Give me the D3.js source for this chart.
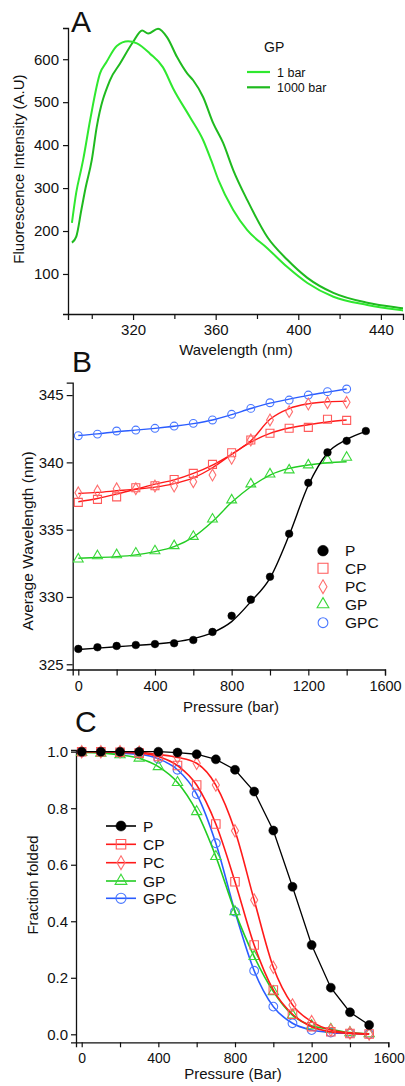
<!DOCTYPE html>
<html><head><meta charset="utf-8">
<script src="https://cdn.jsdelivr.net/npm/d3@7"></script>
<style>
body{margin:0;background:#fff}
text{font-family:"Liberation Sans",Arial,Helvetica,sans-serif;fill:#111}
</style>
</head><body>
<svg id="chart" width="405" height="1086"></svg>
<script>
// ---------- Panel A data: emission spectra of GP ----------
const wl1bar = [290.4,292.5,294.8,295.8,299.2,304,307.2,312.1,317.6,321.9,328.2,334.5,339.4,347.6,353.9,357.8,361.4,368.5,375.3,385,394.7,404.4,417,433.4,449.4,451];
const int1bar = [219,290,342,365,458,567,594,631,642,637,613,581,532,465,412,365,318,249,202,160,116,79,47,28,16,15];
const wl1000bar = [290.4,292.5,295,297,300,302.4,308.8,313.7,320,324.4,327.3,332.1,336.5,341.3,346.2,349.1,353.9,358.8,363.6,368.5,375.3,385,394.7,404.4,417,433.4,449.4,451];
const int1000bar = [173,187,250,300,365,442,551,590,640,667,660,671,651,605,567,551,512,451,405,342,272,186,133,91,56,33,21,20];
const ticksAx = [320,360,400,440];
const ticksAxMinor = [300,340,380,420];
const ticksAy = [100,200,300,400,500,600];

// ---------- Panel B data: average wavelength vs pressure ----------
const pressB = [0,100,200,300,400,500,600,700,800,900,1000,1100,1200,1300,1400,1500];
const bP   = [326.14,326.26,326.36,326.43,326.5,326.56,326.8,327.4,328.6,329.8,331.5,334.7,338.48,340.74,341.6,342.33];
const bCP  = [337.03,337.25,337.44,338.11,338.26,338.73,339.18,339.85,340.72,341.66,342.16,342.53,342.6,343.2,343.12];
const bPC  = [337.74,337.87,338.04,338.04,338.24,338.24,338.56,339.06,340.3,341.66,343.15,343.77,344.33,344.43,344.46];
const bGP  = [332.81,333.05,333.13,333.25,333.42,333.8,334.49,335.78,337.2,338.39,339.13,339.43,339.8,340.17,340.37];
const bGPC = [341.98,342.1,342.33,342.4,342.53,342.7,342.9,343.15,343.57,344.01,344.43,344.63,345.0,345.25,345.45];
// fitted curves
const fitP   = [326.1,326.2,326.3,326.4,326.5,326.65,326.9,327.35,328.17,329.65,331.4,334.6,338.3,340.7,341.7,342.3];
const fitCP  = [337.07,337.32,337.64,338.0,338.38,338.7,339.18,339.8,340.6,341.5,342.15,342.55,342.8,343.0,343.15];
const fitPC  = [337.69,337.77,337.89,338.01,338.16,338.42,338.85,339.6,340.6,341.6,343.2,344.0,344.35,344.5,344.55];
const fitGP  = [332.88,332.93,333.0,333.13,333.37,333.74,334.44,335.6,337.03,338.19,339.06,339.55,339.8,339.97,340.05];
const fitGPC = [342.0,342.12,342.28,342.4,342.53,342.68,342.88,343.15,343.55,344.0,344.4,344.7,344.98,345.22,345.45];
const ticksBx = [0,400,800,1200,1600];
const ticksBxMinor = [200,600,1000,1400];
const ticksBy = [325,330,335,340,345];

// ---------- Panel C data: fraction folded vs pressure ----------
const pressC = [0,100,200,300,400,500,600,700,800,900,1000,1100,1200,1300,1400,1500];
const cP   = [1.0,1.0,1.0,1.0,1.0,0.997,0.991,0.973,0.936,0.859,0.721,0.522,0.316,0.165,0.078,0.033];
const cCP  = [1.0,1.0,0.998,0.995,0.983,0.951,0.882,0.744,0.54,0.316,0.157,0.071,0.027,0.009,0.003,0.001];
const cPC  = [1.0,1.0,1.0,0.998,0.99,0.98,0.959,0.882,0.72,0.475,0.237,0.104,0.045,0.015,0.005,0.001];
const cGP  = [0.997,0.995,0.989,0.977,0.947,0.891,0.788,0.629,0.434,0.275,0.151,0.068,0.03,0.018,0.006,0.002];
const cGPC = [0.998,0.998,0.995,0.991,0.975,0.936,0.85,0.676,0.434,0.225,0.098,0.039,0.015,0.006,0.003,0.001];
const ticksCx = [0,400,800,1200,1600];
const ticksCxMinor = [200,600,1000,1400];
const ticksCy = [0,0.2,0.4,0.6,0.8,1.0];

const seriesNames = ["P","CP","PC","GP","GPC"];

// ---------- styles ----------
const lineCol = {P:"#000000", CP:"#ff1a1a", PC:"#ff1a1a", GP:"#22cc22", GPC:"#2a5cff"};
const markCol = {P:"#000000", CP:"#ff5a5a", PC:"#ff6e6e", GP:"#3ad83a", GPC:"#4a78ff"};
const symType = {P:d3.symbolCircle, CP:d3.symbolSquare, PC:d3.symbolDiamond, GP:d3.symbolTriangle, GPC:d3.symbolCircle};
const lightGreen = "#2fe82f", darkGreen = "#1fba1f";
const fmtInt = d3.format("d");

const svg = d3.select("#chart");

function axisStyle(g){
  g.selectAll("path.domain").attr("stroke","#111").attr("stroke-width",1.3);
  g.selectAll(".tick line").attr("stroke","#111").attr("stroke-width",1.2);
  g.selectAll(".tick text").attr("fill","#111").style("font-family",'"Liberation Sans",Arial,sans-serif');
}

// ================= Panel A =================
{
  const x = d3.scaleLinear().domain([288.5,450.7]).range([68,403]);
  const y = d3.scaleLinear().domain([6.8,672.7]).range([314,28]);
  svg.append("defs").append("clipPath").attr("id","clipA")
    .append("rect").attr("x",68).attr("y",20).attr("width",335).attr("height",294);

  const gx = svg.append("g").attr("transform","translate(0,314)")
    .call(d3.axisBottom(x).tickValues(ticksAx).tickFormat(fmtInt).tickSizeOuter(0).tickSize(6).tickPadding(4));
  gx.selectAll(".tick text").attr("font-size",15);
  axisStyle(gx);
  const gm = svg.append("g").attr("transform","translate(0,314)")
    .call(d3.axisBottom(x).tickValues(ticksAxMinor).tickSize(5).tickFormat(""))
    .call(g=>g.select(".domain").remove());
  axisStyle(gm);
  const gy = svg.append("g").attr("transform","translate(68,0)")
    .call(d3.axisLeft(y).tickValues(ticksAy).tickFormat(fmtInt).tickSizeOuter(0).tickSize(5).tickPadding(4));
  gy.selectAll(".tick text").attr("font-size",15);
  axisStyle(gy);

  const line = d3.line().x(d=>x(d[0])).y(d=>y(d[1])).curve(d3.curveMonotoneX);
  const pts1 = wl1bar.map((w,i)=>[w,int1bar[i]]);
  const pts2 = wl1000bar.map((w,i)=>[w,int1000bar[i]]);
  const gc = svg.append("g").attr("clip-path","url(#clipA)");
  gc.append("path").datum(pts2).attr("d",line).attr("fill","none").attr("stroke",darkGreen).attr("stroke-width",2);
  gc.append("path").datum(pts1).attr("d",line).attr("fill","none").attr("stroke",lightGreen).attr("stroke-width",2);

  svg.append("text").attr("x",71).attr("y",32).attr("font-size",30).text("A");
  svg.append("text").attr("x",236).attr("y",355).attr("text-anchor","middle").attr("font-size",15).text("Wavelength (nm)");
  svg.append("text").attr("transform","translate(24,169) rotate(-90)").attr("text-anchor","middle").attr("font-size",15).text("Fluorescence Intensity (A.U)");
  // legend
  svg.append("text").attr("x",264).attr("y",52).attr("font-size",14).text("GP");
  [["1 bar",lightGreen,72],["1000 bar",darkGreen,87.3]].forEach(([t,c,yy])=>{
    svg.append("line").attr("x1",247).attr("x2",270).attr("y1",yy).attr("y2",yy).attr("stroke",c).attr("stroke-width",2.2);
    svg.append("text").attr("x",277).attr("y",yy+4.5).attr("font-size",12.5).text(t);
  });
}

// ================= Panel B =================
{
  const x = d3.scaleLinear().domain([-29.2,1600]).range([72.7,385]);
  const y = d3.scaleLinear().domain([324.61,345.92]).range([669.5,382.7]);
  const gx = svg.append("g").attr("transform","translate(0,669.5)")
    .call(d3.axisBottom(x).tickValues(ticksBx).tickFormat(fmtInt).tickSizeOuter(0).tickSize(6).tickPadding(5));
  gx.selectAll(".tick text").attr("font-size",14.5);
  axisStyle(gx);
  const gm = svg.append("g").attr("transform","translate(0,669.5)")
    .call(d3.axisBottom(x).tickValues(ticksBxMinor).tickSize(6).tickFormat(""))
    .call(g=>g.select(".domain").remove());
  axisStyle(gm);
  const gy = svg.append("g").attr("transform","translate(72.7,0)")
    .call(d3.axisLeft(y).tickValues(ticksBy).tickFormat(fmtInt).tickSizeOuter(0).tickSize(6).tickPadding(3));
  gy.selectAll(".tick text").attr("font-size",15);
  axisStyle(gy);

  const line = d3.line().x(d=>x(d[0])).y(d=>y(d[1])).curve(d3.curveMonotoneX);
  const data = {P:[bP,fitP],CP:[bCP,fitCP],PC:[bPC,fitPC],GP:[bGP,fitGP],GPC:[bGPC,fitGPC]};
  const order = ["GPC","GP","CP","PC","P"];
  order.forEach(k=>{
    const fit = data[k][1].map((v,i)=>[pressB[i],v]);
    svg.append("path").datum(fit).attr("d",line).attr("fill","none")
      .attr("stroke",lineCol[k]).attr("stroke-width",1.4);
  });
  const sizes = {P:46,CP:64,PC:40,GP:42,GPC:48};
  order.forEach(k=>{
    const pts = data[k][0].map((v,i)=>[pressB[i],v]);
    svg.append("g").selectAll("path").data(pts).join("path")
      .attr("transform",d=>`translate(${x(d[0])},${y(d[1])})`)
      .attr("d",d3.symbol().type(symType[k]).size(sizes[k]))
      .attr("fill",k==="P"?"#000":"none")
      .attr("stroke",markCol[k]).attr("stroke-width",k==="P"?0.5:1.1);
  });

  svg.append("text").attr("x",72).attr("y",372).attr("font-size",30).text("B");
  svg.append("text").attr("x",231).attr("y",712).attr("text-anchor","middle").attr("font-size",15).text("Pressure (bar)");
  svg.append("text").attr("transform","translate(33,541) rotate(-90)").attr("text-anchor","middle").attr("font-size",15.5).text("Average Wavelength (nm)");

  // legend
  const legY = [550.7,568.3,586.7,604.4,622.7];
  const legSize = {P:90,CP:100,PC:55,GP:60,GPC:75};
  seriesNames.forEach((k,i)=>{
    svg.append("path").attr("transform",`translate(323,${legY[i]})`)
      .attr("d",d3.symbol().type(symType[k]).size(legSize[k]))
      .attr("fill",k==="P"?"#000":"none").attr("stroke",markCol[k]).attr("stroke-width",k==="P"?0.5:1.1);
    svg.append("text").attr("x",345).attr("y",legY[i]+5.5).attr("font-size",15.5).text(k);
  });
}

// ================= Panel C =================
{
  const x = d3.scaleLinear().domain([-29.7,1600]).range([76,388.3]);
  const y = d3.scaleLinear().domain([-0.0283,1.006]).range([1042.3,750]);
  const gx = svg.append("g").attr("transform","translate(0,1042.3)")
    .call(d3.axisBottom(x).tickValues(ticksCx).tickFormat(fmtInt).tickSizeOuter(0).tickSize(5).tickPadding(6));
  gx.selectAll(".tick text").attr("font-size",14);
  gx.selectAll(".tick").filter(d=>d===1600).select("text").attr("text-anchor","end").attr("dx",16);
  axisStyle(gx);
  const gm = svg.append("g").attr("transform","translate(0,1042.3)")
    .call(d3.axisBottom(x).tickValues(ticksCxMinor).tickSize(5).tickFormat(""))
    .call(g=>g.select(".domain").remove());
  axisStyle(gm);
  const gy = svg.append("g").attr("transform","translate(76,0)")
    .call(d3.axisLeft(y).tickValues(ticksCy).tickSizeOuter(0).tickSize(5).tickPadding(3).tickFormat(d3.format(".1f")));
  gy.selectAll(".tick text").attr("font-size",15);
  axisStyle(gy);

  const smooth = d3.line().x(d=>x(d[0])).y(d=>y(d[1])).curve(d3.curveMonotoneX);
  const straight = d3.line().x(d=>x(d[0])).y(d=>y(d[1]));
  const data = {P:cP,CP:cCP,PC:cPC,GP:cGP,GPC:cGPC};
  const order = ["GPC","GP","PC","CP","P"];
  const sizes = {P:64,CP:72,PC:44,GP:46,GPC:60};
  order.forEach(k=>{
    const pts = data[k].map((v,i)=>[pressC[i],v]);
    svg.append("path").datum(pts).attr("d",k==="P"?straight:smooth).attr("fill","none")
      .attr("stroke",lineCol[k]).attr("stroke-width",k==="P"?1.3:1.6);
    svg.append("g").selectAll("path").data(pts).join("path")
      .attr("transform",d=>`translate(${x(d[0])},${y(d[1])})`)
      .attr("d",d3.symbol().type(symType[k]).size(sizes[k]))
      .attr("fill",k==="P"?"#000":"none")
      .attr("stroke",markCol[k]).attr("stroke-width",k==="P"?0.5:1.1);
  });

  svg.append("text").attr("x",75).attr("y",732).attr("font-size",30).text("C");
  svg.append("text").attr("x",233).attr("y",1079).attr("text-anchor","middle").attr("font-size",15).text("Pressure (Bar)");
  svg.append("text").attr("transform","translate(38,885) rotate(-90)").attr("text-anchor","middle").attr("font-size",15).text("Fraction folded");

  // legend
  const legY = [826,844.3,862.7,881,898.3];
  const legSize = {P:80,CP:90,PC:55,GP:60,GPC:80};
  seriesNames.forEach((k,i)=>{
    svg.append("line").attr("x1",106).attr("x2",136).attr("y1",legY[i]).attr("y2",legY[i])
      .attr("stroke",lineCol[k]).attr("stroke-width",1.6);
    svg.append("path").attr("transform",`translate(121,${legY[i]})`)
      .attr("d",d3.symbol().type(symType[k]).size(legSize[k]))
      .attr("fill",k==="P"?"#000":"none").attr("stroke",markCol[k]).attr("stroke-width",k==="P"?0.5:1.1);
    svg.append("text").attr("x",143).attr("y",legY[i]+5.5).attr("font-size",15.5).text(k);
  });
}
</script>
</body></html>
